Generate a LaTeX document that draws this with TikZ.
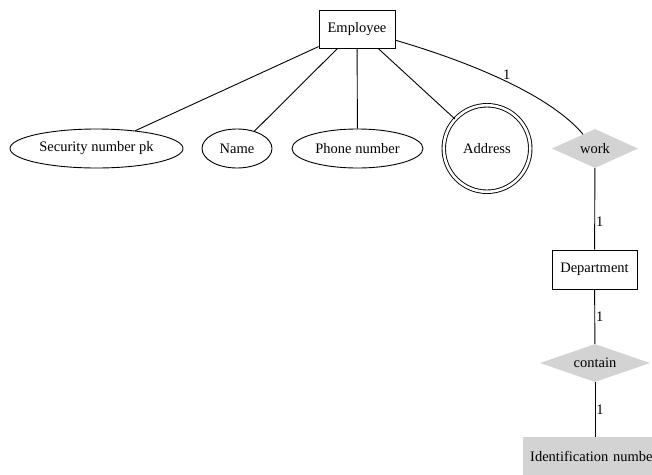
\documentclass[tikz,border=0pt]{standalone}
\usepackage{fontspec}
\setmainfont{Liberation Serif}
\usetikzlibrary{shapes.geometric}
\definecolor{relfill}{HTML}{D3D3D3}
\tikzset{
  every node/.style={font=\fontsize{14.5}{16}\selectfont},
  link/.style={draw=black, line width=0.9pt},
  entity/.style={draw=black, line width=0.9pt, rectangle, inner sep=0pt},
  attr/.style={draw=black, line width=0.9pt, ellipse, inner sep=0pt},
  multiattr/.style={draw=black, line width=0.9pt, circle, inner sep=0pt,
    double, double distance=2.6pt},
  relation/.style={fill=relfill, diamond, inner sep=0pt},
  keybox/.style={fill=relfill, rectangle, inner xsep=0pt, inner ysep=0pt},
  card/.style={inner sep=1pt}
}
\begin{document}
\begin{tikzpicture}[x=1pt, y=-1pt]
  \useasboundingbox (0,0) rectangle (652,474);

  % entities, attributes and relationships
  \node[entity, minimum width=76pt, minimum height=38pt] (emp) at (357,29) {Employee};
  \node[attr, minimum width=173pt, minimum height=39pt] (ssn) at (96.5,148.5) {Security number pk};
  \node[attr, minimum width=70pt, minimum height=39pt] (name) at (237,148.5) {Name};
  \node[attr, minimum width=131pt, minimum height=39pt] (phone) at (357.5,148.5) {Phone number};
  \node[multiattr, minimum size=86.5pt] (addr) at (487,148.5) {Address};
  \node[relation, minimum width=86pt, minimum height=39pt,
        label=center:work] (work) at (595,148.5) {};
  \node[entity, minimum width=85pt, minimum height=39pt] (dept) at (594.5,269.5) {Department};
  \node[relation, minimum width=110pt, minimum height=38pt,
        label=center:contain] (contain) at (595,363) {};
  \node[keybox, text width=144pt, minimum height=39pt, anchor=west] (ident) at (523,456.5)
        {\hspace*{7pt}Identification number};

  % attribute links
  \draw[link] (emp) -- (ssn);
  \draw[link] (emp) -- (name);
  \draw[link] (emp) -- (phone);
  \draw[link] (emp) -- (addr);

  % relationship links with cardinalities
  \draw[link] (emp) .. controls (470,62) and (550,95) .. (work)
        node[card, pos=0.5, above, xshift=2pt] {1};
  \draw[link] (work) -- (dept) node[card, pos=0.66, right] {1};
  \draw[link] (dept) -- (contain) node[card, pos=0.5, right] {1};
  \draw[link] (contain) -- (ident.north -| contain) node[card, pos=0.5, right] {1};
\end{tikzpicture}
\end{document}
